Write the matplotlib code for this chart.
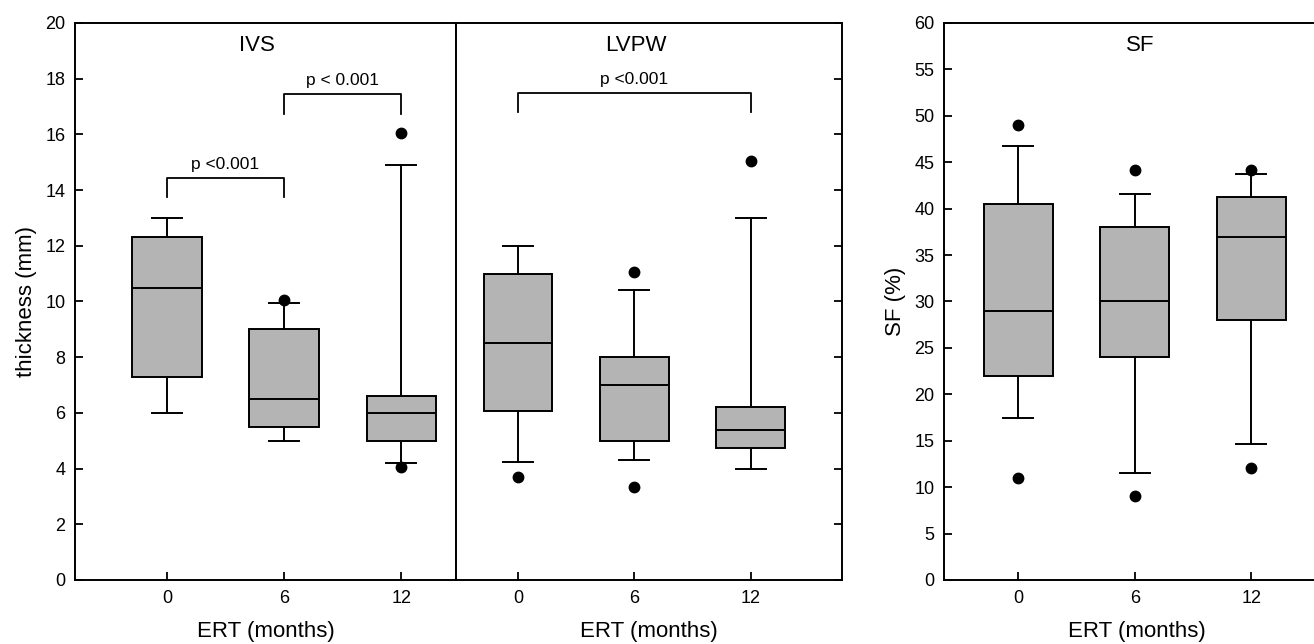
import numpy as np
import matplotlib.pyplot as plt

plt.rcParams['font.family'] = ['Liberation Sans', 'DejaVu Sans']

months = [0, 6, 12]

# IVS thickness (mm)
ivs_whislo = [6.0, 5.0, 4.2]
ivs_q1 = [7.3, 5.5, 5.0]
ivs_med = [10.5, 6.5, 6.0]
ivs_q3 = [12.3, 9.0, 6.6]
ivs_whishi = [13.0, 9.95, 14.9]
ivs_fliers = [[], [10.05], [16.05, 4.05]]

# LVPW thickness (mm)
lvpw_whislo = [4.25, 4.3, 4.0]
lvpw_q1 = [6.05, 5.0, 4.75]
lvpw_med = [8.5, 7.0, 5.4]
lvpw_q3 = [11.0, 8.0, 6.2]
lvpw_whishi = [12.0, 10.4, 13.0]
lvpw_fliers = [[3.7], [11.05, 3.35], [15.05]]

# SF (%)
sf_whislo = [17.4, 11.5, 14.7]
sf_q1 = [22.0, 24.0, 28.0]
sf_med = [29.0, 30.0, 37.0]
sf_q3 = [40.5, 38.0, 41.3]
sf_whishi = [46.7, 41.6, 43.7]
sf_fliers = [[49.0, 11.0], [44.2, 9.0], [44.2, 12.1]]


def make_stats(lo, q1, med, q3, hi, fl):
    return [dict(whislo=a, q1=b, med=c, q3=d, whishi=e, fliers=f)
            for a, b, c, d, e, f in zip(lo, q1, med, q3, hi, fl)]


def draw_boxes(ax, stats):
    lw = 1.4
    ax.bxp(stats, positions=months, widths=3.55, capwidths=1.55,
           patch_artist=True, showfliers=True,
           boxprops=dict(facecolor='#b4b4b4', edgecolor='black', linewidth=lw),
           medianprops=dict(color='black', linewidth=lw),
           whiskerprops=dict(color='black', linewidth=lw),
           capprops=dict(color='black', linewidth=lw),
           flierprops=dict(marker='o', markerfacecolor='black',
                           markeredgecolor='black', markersize=7.5))


def bracket(ax, x0, x1, y, leg, text, tx=None):
    ax.plot([x0, x0, x1, x1], [y - leg, y, y, y - leg], color='black', lw=1.3)
    if tx is None:
        tx = (x0 + x1) / 2
    ax.text(tx, y + 0.2, text, ha='center', va='bottom', fontsize=12.5)


fig = plt.figure(figsize=(13.14, 6.44), dpi=100)
bottom, top = 0.0994, 0.9643
h = top - bottom
ax1 = fig.add_axes([0.0571, bottom, 0.347 - 0.0571, h])
ax2 = fig.add_axes([0.347, bottom, 0.6408 - 0.347, h])
ax3 = fig.add_axes([0.7184, bottom, 1.012 - 0.7184, h])

draw_boxes(ax1, make_stats(ivs_whislo, ivs_q1, ivs_med, ivs_q3, ivs_whishi, ivs_fliers))
draw_boxes(ax2, make_stats(lvpw_whislo, lvpw_q1, lvpw_med, lvpw_q3, lvpw_whishi, lvpw_fliers))
draw_boxes(ax3, make_stats(sf_whislo, sf_q1, sf_med, sf_q3, sf_whishi, sf_fliers))

ax1.set_xlim(-4.7, 14.8)
ax2.set_xlim(-3.2, 16.7)
ax3.set_xlim(-3.84, 16.05)
for ax in (ax1, ax2):
    ax.set_ylim(0, 20)
    ax.set_yticks(np.arange(0, 21, 2))
ax3.set_ylim(0, 60)
ax3.set_yticks(np.arange(0, 61, 5))

for ax in (ax1, ax2, ax3):
    ax.set_xticks(months)
    ax.set_xticklabels([str(m) for m in months])
    ax.tick_params(direction='in', length=6, width=1.3, labelsize=13, pad=7)
    for s in ax.spines.values():
        s.set_linewidth(1.4)
    ax.set_xlabel('ERT (months)', fontsize=16, labelpad=10)

ax1.tick_params(axis='y', left=True, right=False)
ax2.tick_params(axis='y', left=False, labelleft=False, right=True, labelright=False)
ax3.tick_params(axis='y', left=True, right=False)

ax1.set_ylabel('thickness (mm)', fontsize=16, labelpad=6)
ax3.set_ylabel('SF (%)', fontsize=16, labelpad=6)

ax1.text(4.6, 19.2, 'IVS', ha='center', va='center', fontsize=16)
ax2.text(6.1, 19.2, 'LVPW', ha='center', va='center', fontsize=16)
ax3.text(6.3, 57.6, 'SF', ha='center', va='center', fontsize=16)

bracket(ax1, 0, 6, 14.45, 0.7, 'p <0.001')
bracket(ax1, 6, 12, 17.45, 0.7, 'p < 0.001')
bracket(ax2, 0, 12, 17.5, 0.7, 'p <0.001', tx=6)

fig.savefig('out.png', dpi=100)
